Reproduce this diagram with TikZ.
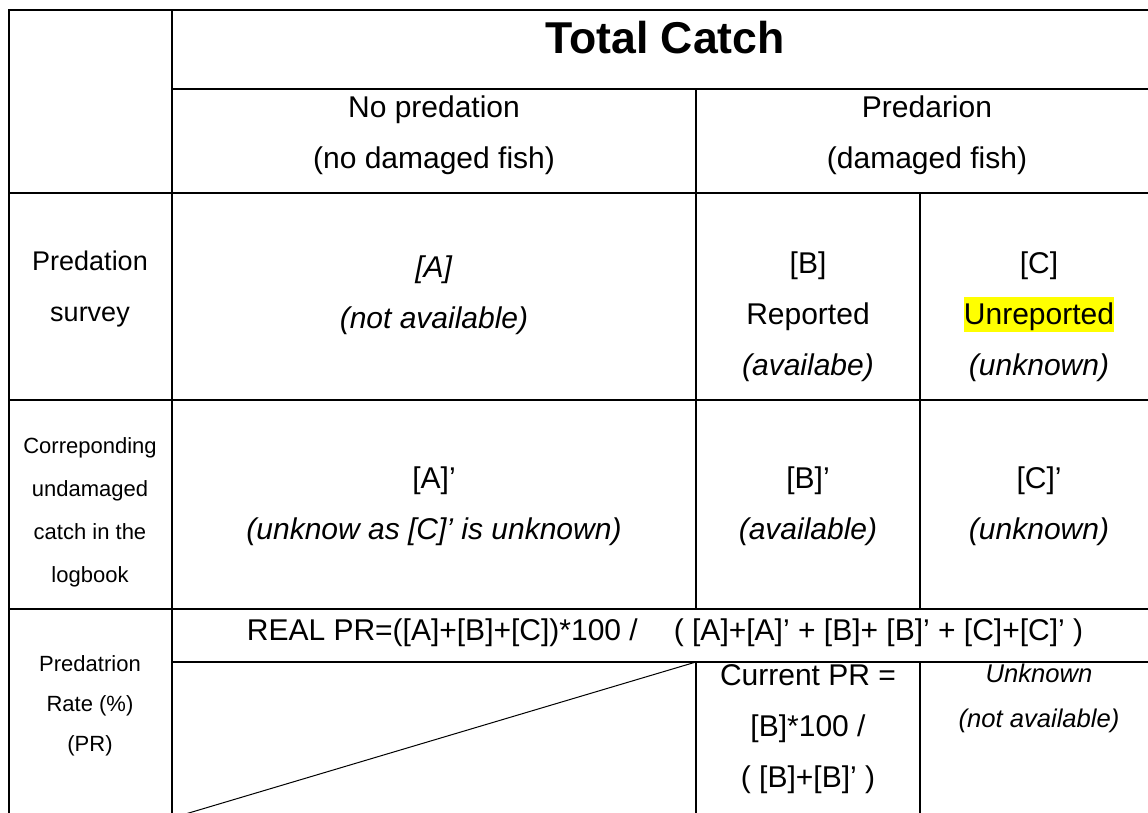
\documentclass[tikz,border=0pt]{standalone}
\usepackage{fontspec}
\setmainfont{Liberation Sans}
\usepackage{xcolor}
\usetikzlibrary{positioning}
\definecolor{marker}{HTML}{FFFF00}
\newcommand{\marktext}[1]{{\setlength{\fboxsep}{0pt}\colorbox{marker}{\rule[-0.23em]{0pt}{1.16em}#1}}}

\begin{document}
\begin{tikzpicture}[x=0.5pt,y=-0.5pt,
  gridline/.style={line width=1pt,line cap=rect,black},
  headbox/.style={inner sep=0pt,font=\fontsize{22.3}{26}\selectfont\bfseries},
  cellbox/.style={align=center,inner sep=0pt,font=\fontsize{15}{25.5}\selectfont},
  surveybox/.style={align=center,inner sep=0pt,font=\fontsize{13.5}{25.5}\selectfont},
  sidebox/.style={align=center,inner sep=0pt,font=\fontsize{11}{21.5}\selectfont},
  notebox/.style={align=center,inner sep=0pt,font=\fontsize{12.8}{22.5}\selectfont}]
\useasboundingbox (0,0) rectangle (1148,813);
\clip (0,0) rectangle (1148,813);
% rows
\foreach \ya/\xa/\xb in {10/9/1158,89/172/1158,193/9/1158,400/9/1158,609/9/1158,662/172/1158}
  \draw[gridline] (\xa,\ya) -- (\xb,\ya);
% columns
\foreach \xa/\ya/\yb in {9/10/830,172/10/830,696/89/609,696/662/830,920/193/609,920/662/830}
  \draw[gridline] (\xa,\ya) -- (\xa,\yb);
\draw[line width=0.5pt] (172,818) -- (696,662);
% header
\node[headbox] (total) at (665,38) {Total Catch};
\node[cellbox] (nopred) at (434,135) {No predation\\(no damaged fish)};
\node[cellbox] (pred) at (927,135) {Predarion\\(damaged fish)};
% survey row
\node[surveybox] (survey) at (90,289) {Predation\\survey};
\node[cellbox] (cella) at (434,295) {\textit{[A]}\\\textit{(not available)}};
\node[cellbox] (cellb) at (808,317) {[B]\\Reported\\\textit{(availabe)}};
\node[cellbox] (cellc) at (1039,317) {[C]\\\marktext{Unreported}\\\textit{(unknown)}};
% logbook row
\node[sidebox] (corr) at (90,512) {Correponding\\undamaged\\catch in the\\logbook};
\node[cellbox] (cellat) at (434,506) {[A]'\\\textit{(unknow as [C]' is unknown)}};
\node[cellbox] (cellbt) at (808,506) {[B]'\\\textit{(available)}};
\node[cellbox] (cellct) at (1039,506) {[C]'\\\textit{(unknown)}};
% rate row
\node[sidebox,font=\fontsize{11}{20}\selectfont] (rate) at (90,706) {Predatrion\\Rate (\%)\\(PR)};
\node[cellbox] (realpr) at (665,633) {REAL PR=([A]+[B]+[C])*100 /\hspace{1.2em}( [A]+[A]' + [B]+ [B]' + [C]+[C]' )};
\node[cellbox] (current) at (808,729) {Current PR =\\{}[B]*100 /\\( [B]+[B]' )};
\node[notebox] (unknown) at (1039,698) {\textit{Unknown}\\\textit{(not available)}};
\end{tikzpicture}
\end{document}
